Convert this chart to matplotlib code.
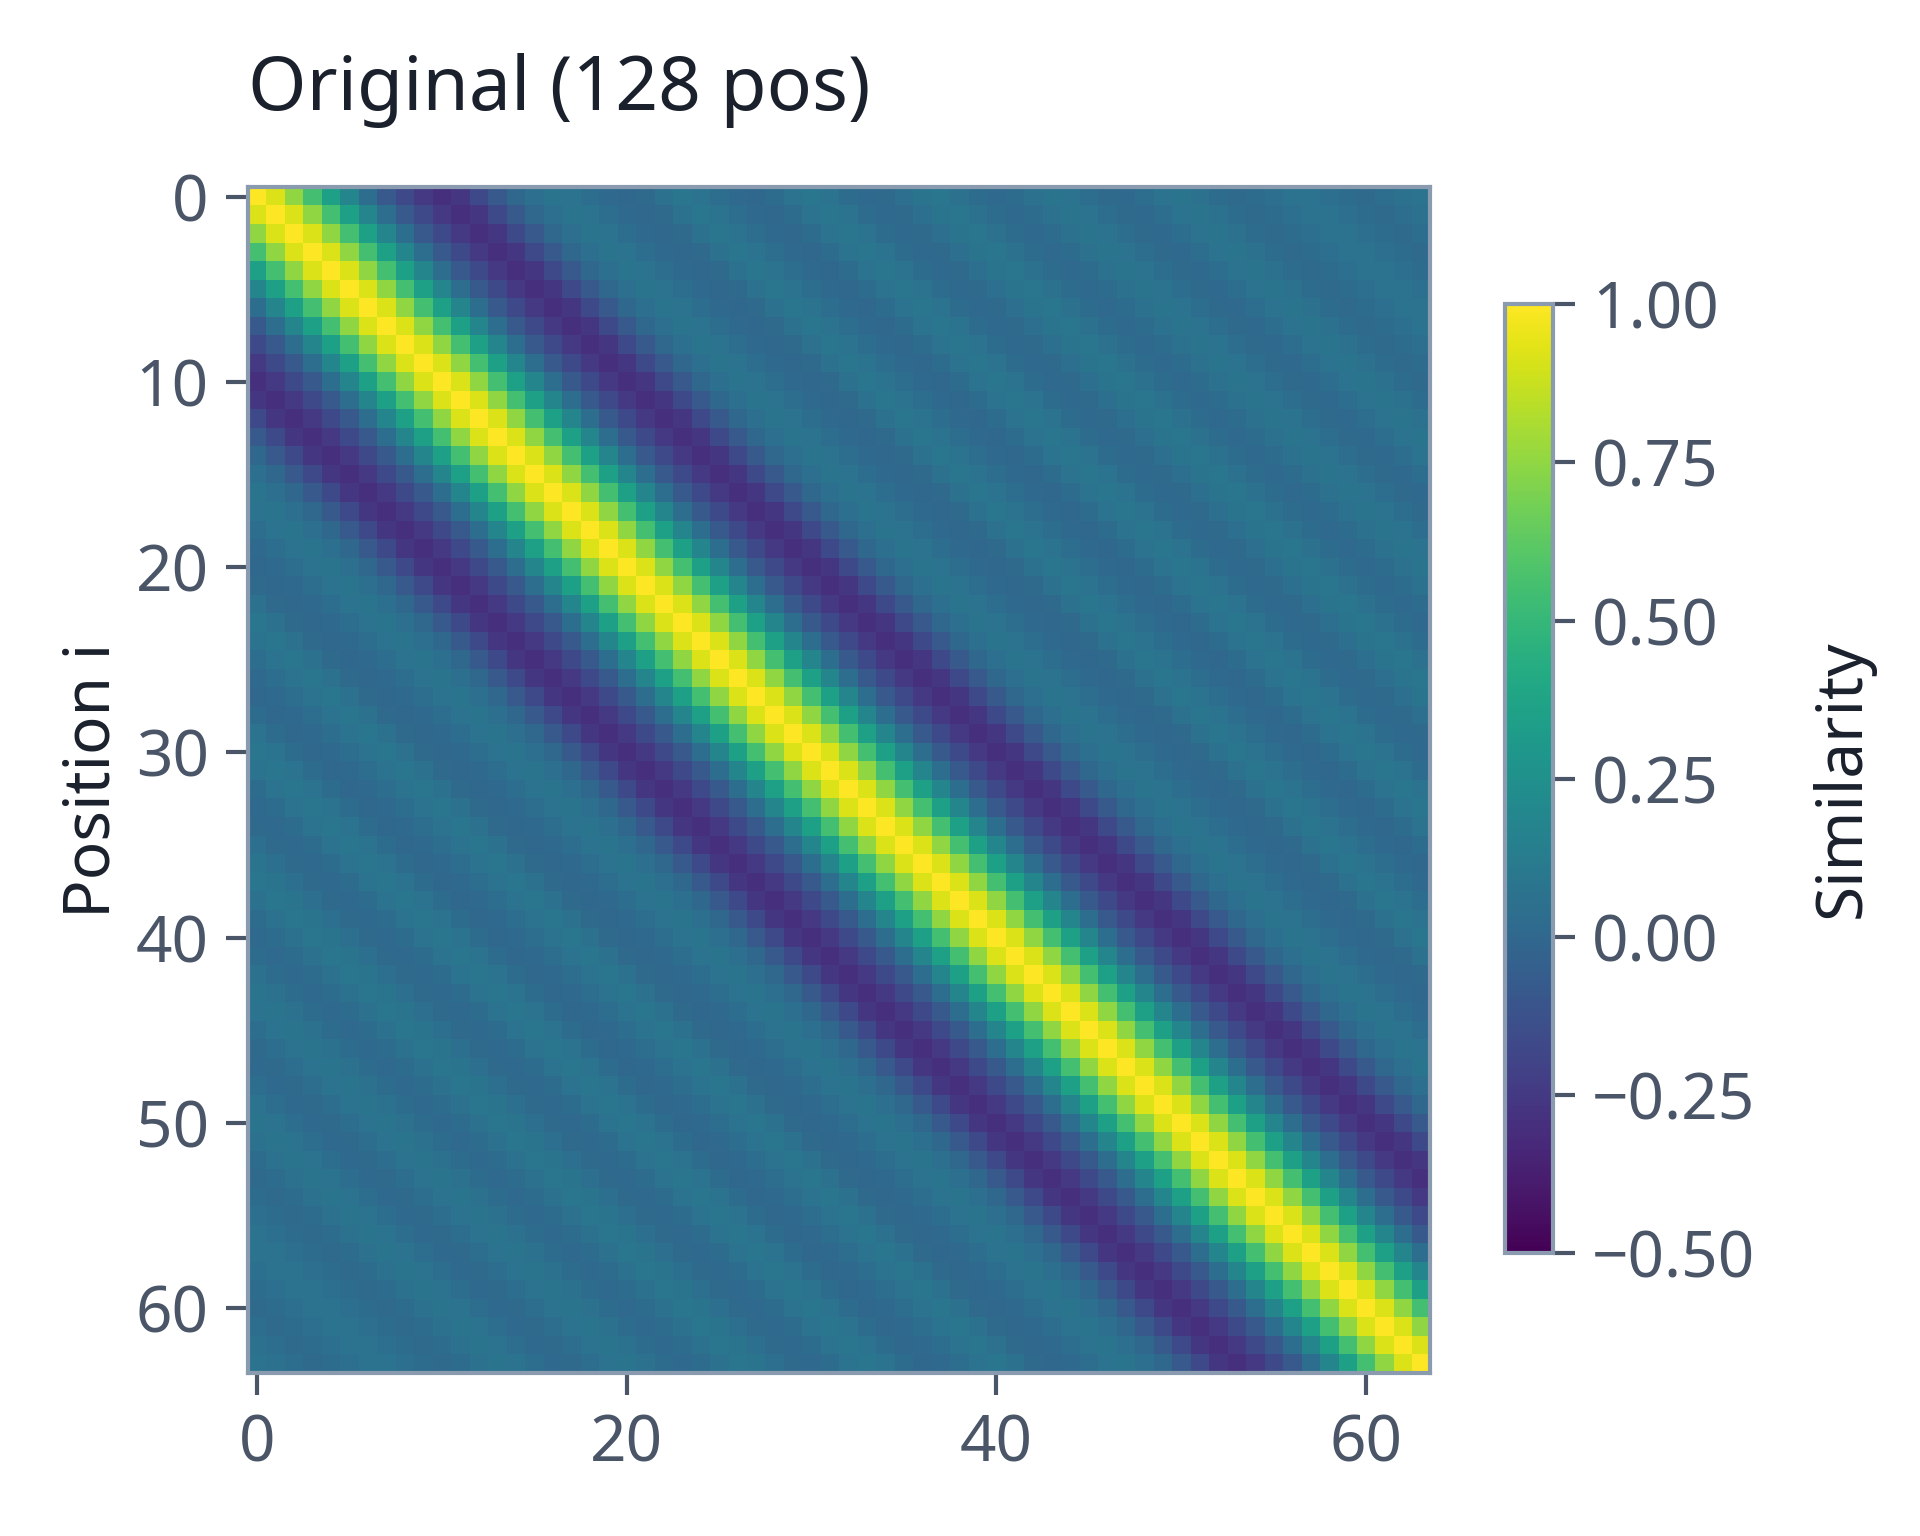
import numpy as np
import matplotlib.pyplot as plt

plt.rcParams['font.family'] = ['Noto Sans', 'DejaVu Sans']

n_pos = 64
# similarity vs. offset |i - j|
offset_profile = [1.00, 0.92, 0.75, 0.55, 0.35, 0.18, 0.04, -0.08, -0.17, -0.25,
                  -0.30, -0.26, -0.17, -0.08, 0.00, 0.05, 0.08, 0.07, 0.04, 0.01,
                  0.00, 0.02, 0.06, 0.09, 0.07, 0.04, 0.01, 0.00, 0.03, 0.07,
                  0.09, 0.07, 0.03, 0.01, 0.02, 0.05, 0.08, 0.09, 0.06, 0.03,
                  0.01, 0.03, 0.06, 0.08, 0.07, 0.04, 0.02, 0.01, 0.04, 0.07,
                  0.08, 0.06, 0.03, 0.02, 0.03, 0.05, 0.07, 0.07, 0.05, 0.03,
                  0.02, 0.04, 0.06, 0.07]

idx = np.arange(n_pos)
sim = np.array(offset_profile)[np.abs(idx[:, None] - idx[None, :])]

text_c = '#4a5568'
spine_c = '#8a9bb0'

fig = plt.figure(figsize=(9.6, 7.68), dpi=200)
ax = fig.add_axes([0.129, 0.106, 0.616, 0.772])
cax = fig.add_axes([0.784, 0.184, 0.025, 0.618])

im = ax.imshow(sim, cmap='viridis', vmin=-0.5, vmax=1.0, aspect='auto')
ax.set_xticks([0, 20, 40, 60])
ax.set_yticks([0, 10, 20, 30, 40, 50, 60])
ax.tick_params(colors=text_c, labelsize=23, length=8, width=1.5, pad=6)
for s in ax.spines.values():
    s.set_color(spine_c)
    s.set_linewidth(1.5)
ax.set_ylabel('Position i', fontsize=23, color='#1a202c', labelpad=4)
ax.set_title('Original (128 pos)', fontsize=27, color='#1a202c', loc='left', pad=28)

cb = fig.colorbar(im, cax=cax, ticks=[-0.5, -0.25, 0, 0.25, 0.5, 0.75, 1.0])
cb.ax.set_yticklabels(['\u22120.50', '\u22120.25', '0.00', '0.25', '0.50', '0.75', '1.00'])
cb.ax.tick_params(colors=text_c, labelsize=23, length=8, width=1.5, pad=6)
cb.outline.set_edgecolor(spine_c)
cb.outline.set_linewidth(1.5)
cb.set_label('Similarity', fontsize=23, color='#1a202c', labelpad=20)

fig.savefig('out.png', dpi=200)
